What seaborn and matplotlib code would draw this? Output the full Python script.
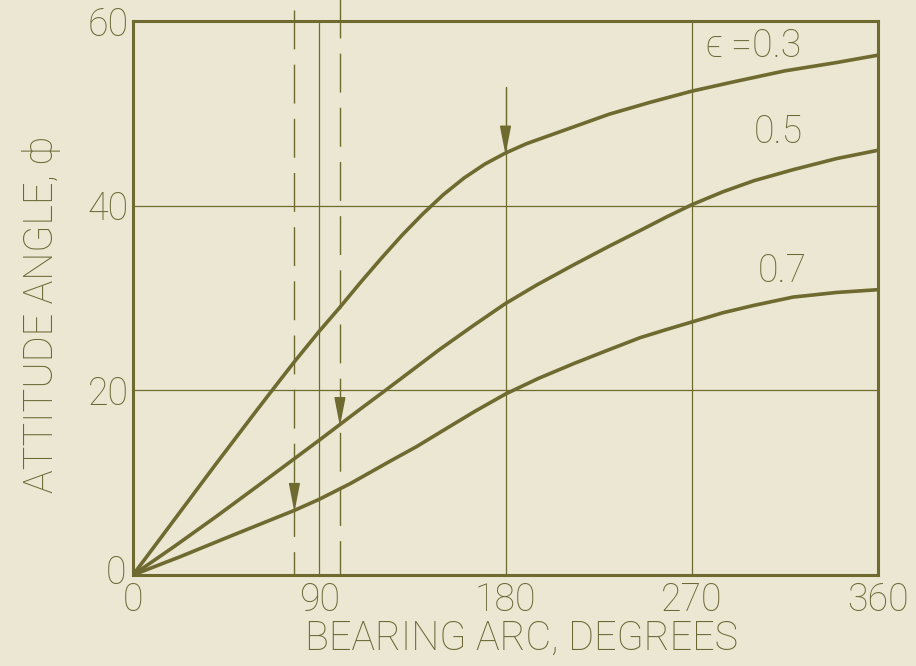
import numpy as np
import pandas as pd
import matplotlib
matplotlib.use("Agg")
import matplotlib.pyplot as plt
import matplotlib.transforms as mtransforms
import seaborn as sns

# Attitude angle vs. bearing arc for three eccentricity ratios
arc_03 = [0, 20, 40, 60, 70, 78, 90, 100, 110, 120, 130, 140, 150, 160, 170, 180,
          190, 200, 215, 230, 250, 270, 290, 315, 340, 360]
phi_03 = [0, 6.0, 12.0, 17.9, 20.8, 23.1, 26.4, 29.0, 31.7, 34.3, 36.8, 39.1, 41.2, 43.0,
          44.5, 45.7, 46.7, 47.5, 48.7, 49.9, 51.2, 52.4, 53.4, 54.6, 55.5, 56.3]

arc_05 = [0, 20, 40, 60, 78, 90, 100, 110, 122, 135, 148, 165, 180, 195, 213, 230,
          245, 258, 270, 285, 300, 319, 340, 360]
phi_05 = [0, 3.1, 6.3, 9.6, 12.6, 14.6, 16.3, 18.0, 20.0, 22.2, 24.4, 27.1, 29.4, 31.4,
          33.6, 35.6, 37.3, 38.8, 40.1, 41.5, 42.7, 43.9, 45.1, 46.0]

arc_07 = [0, 23, 47, 78, 90, 105, 124, 137, 148, 165, 180, 196, 213, 230, 245, 258,
          270, 285, 300, 319, 340, 360]
phi_07 = [0, 2.0, 4.2, 7.0, 8.2, 9.9, 12.3, 13.9, 15.4, 17.7, 19.6, 21.3, 22.9, 24.4,
          25.7, 26.6, 27.4, 28.4, 29.2, 30.1, 30.6, 30.9]

eccentricities = ["0.3", "0.5", "0.7"]
curve_labels = ["\u03f5 =0.3", "0.5", "0.7"]

# bearing arc at which each curve is marked with an arrow
marker_arc = [180, 100, 78]
# dashed guide lines
guide_arc = [78, 100]

x_ticks = [0, 90, 180, 270, 360]
y_ticks = [0, 20, 40, 60]
# upper end of each vertical grid line
x_grid = [90, 180, 270]
x_grid_top = [60, 52.8, 60]

frames = []
for eps, xs, ys in zip(eccentricities, [arc_03, arc_05, arc_07], [phi_03, phi_05, phi_07]):
    frames.append(pd.DataFrame({"arc": xs, "phi": ys, "eps": eps}))
df = pd.concat(frames, ignore_index=True)

BG = "#ebe7d2"
INK = "#6f6a30"
TXT = "#6c6734"

sns.set_style("white", {"axes.facecolor": BG, "figure.facecolor": BG})
plt.rcParams["font.family"] = ["Roboto", "DejaVu Sans"]
plt.rcParams["font.weight"] = "light"

fig = plt.figure(figsize=(9.16, 6.66), dpi=100)
fig.patch.set_facecolor(BG)
ax = fig.add_axes([133 / 916, 1 - 575 / 666, 745 / 916, 554 / 666])
ax.set_facecolor(BG)

sns.lineplot(data=df, x="arc", y="phi", hue="eps", units="eps", estimator=None,
             palette=[INK] * 3, linewidth=2.6, legend=False, ax=ax, zorder=3)

ax.set_xlim(0, 360)
ax.set_ylim(0, 60)
ax.set_xticks(x_ticks)
ax.set_yticks(y_ticks)
ax.grid(True, axis="y", color=INK, linewidth=0.9, zorder=1)
ax.vlines(x_grid, 0, x_grid_top, color=INK, linewidth=0.9, zorder=1)
ax.tick_params(length=0, labelsize=27, labelcolor=TXT)
ax.tick_params(axis="x", pad=5)
ax.tick_params(axis="y", pad=3)
for s in ax.spines.values():
    s.set_visible(True)
    s.set_color(INK)
    s.set_linewidth(2.2)

# lift the y-axis zero a little so it sits beside the x-axis zero
ylabels = ax.get_yticklabels()
ylabels[0].set_transform(ylabels[0].get_transform() +
                         mtransforms.ScaledTranslation(-2 / 72, 4 / 72, fig.dpi_scale_trans))

ax.set_xlabel("BEARING ARC, DEGREES", fontsize=28.5, color=TXT, fontweight="light")
ax.set_ylabel("ATTITUDE ANGLE, \u03d5", fontsize=28.5, color=TXT, fontweight="light")
ax.xaxis.set_label_coords(0.522, -0.08)
ax.yaxis.set_label_coords(-0.097, 0.47)

# dashed guides reaching above the frame
for gx, top in zip(guide_arc, [61.2, 62.6]):
    ax.plot([gx, gx], [top, 0], color=INK, linewidth=1.0,
            linestyle=(0, (28, 11)), clip_on=False, zorder=2)

# downward arrows marking points on each curve
curves = {"0.3": dict(zip(arc_03, phi_03)),
          "0.5": dict(zip(arc_05, phi_05)),
          "0.7": dict(zip(arc_07, phi_07))}
for eps, mx in zip(eccentricities, marker_arc):
    my = curves[eps][mx]
    ax.annotate("", xy=(mx, my + 0.2), xytext=(mx, my + 2.9),
                arrowprops=dict(arrowstyle="wedge,tail_width=0.7,shrink_factor=0.5",
                                color=INK, mutation_scale=10,
                                shrinkA=0, shrinkB=0), zorder=4)
# shaft above the arrow on the 0.3 curve
ax.plot([marker_arc[0]] * 2, [x_grid_top[1], curves["0.3"][marker_arc[0]] + 2.9],
        color=INK, linewidth=0.9, zorder=2)

# curve labels
label_pos = [(277, 56.1), (300, 46.8), (302, 31.7)]
for txt, (tx, ty) in zip(curve_labels, label_pos):
    ax.text(tx, ty, txt, fontsize=27, color=TXT, ha="left", va="baseline")

fig.savefig("out.png", dpi=100, facecolor=BG)
